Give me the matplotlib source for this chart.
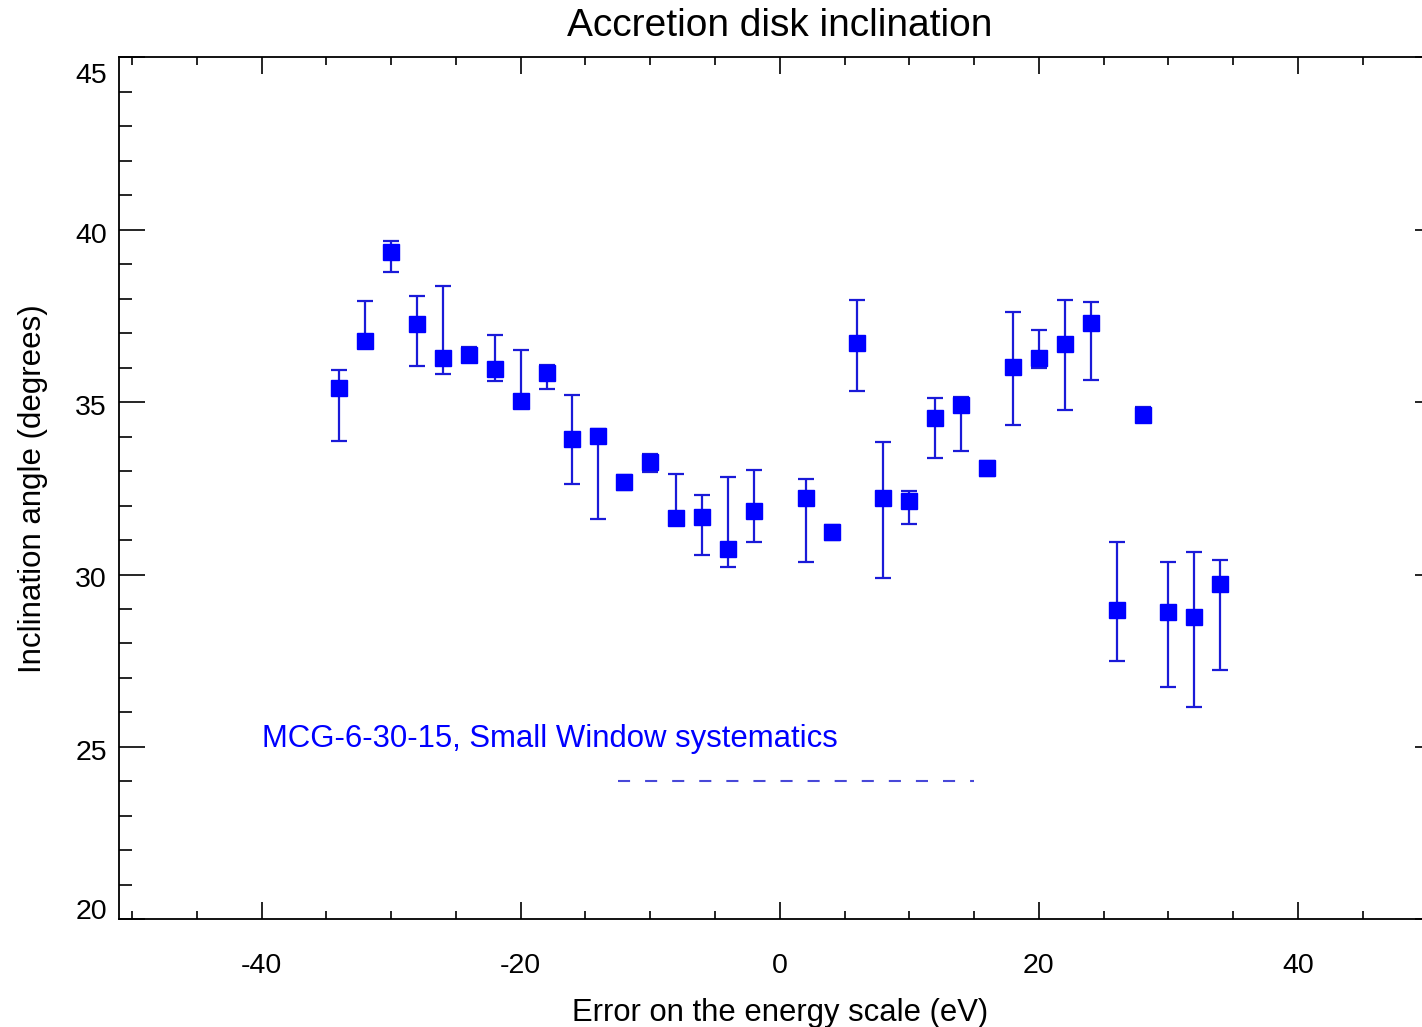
import numpy as np
import matplotlib
matplotlib.use("Agg")
import matplotlib.pyplot as plt
import matplotlib.transforms as mtransforms

plt.rcParams['font.family'] = ['Liberation Sans', 'DejaVu Sans']
plt.rcParams['axes.unicode_minus'] = False

# energy scale offsets (eV), no point at 0
x = [-34, -32, -30, -28, -26, -24, -22, -20, -18, -16, -14, -12, -10, -8, -6, -4, -2,
     2, 4, 6, 8, 10, 12, 14, 16, 18, 20, 22, 24, 26, 28, 30, 32, 34]

# best fit inclination (degrees)
incl = [35.40, 36.78, 39.36, 37.27, 36.29, 36.38, 35.97, 35.03, 35.85, 33.92, 34.01, 32.67,
        33.27, 31.65, 31.67, 30.74, 31.84,
        32.22, 31.22, 36.72, 32.23, 32.13, 34.55, 34.93, 33.08, 36.01, 36.27, 36.69, 37.29,
        28.97, 34.64, 28.90, 28.77, 29.72]

# upper / lower ends of the error bars
incl_hi = [35.93, 37.92, 39.68, 38.07, 38.36, 36.59, 36.94, 36.50, 36.07, 35.21, 34.21, 32.89,
           33.49, 32.91, 32.31, 32.82, 33.02,
           32.78, 31.43, 37.97, 33.83, 32.43, 35.13, 35.15, 33.29, 37.61, 37.10, 37.96, 37.91,
           30.93, 34.86, 30.37, 30.66, 30.42]
incl_lo = [33.86, 36.56, 38.78, 36.04, 35.82, 36.16, 35.61, 34.82, 35.37, 32.62, 31.62, 32.45,
           32.96, 31.44, 30.57, 30.21, 30.93,
           30.36, 31.00, 35.31, 29.89, 31.46, 33.38, 33.57, 32.86, 34.35, 36.00, 34.77, 35.65,
           27.49, 34.42, 26.74, 26.16, 27.24]

# dashed reference line
dash_x = [-12.5, 15.0]
dash_y = 24.0

label_x, label_y = -40, 25
label_txt = "MCG-6-30-15, Small Window systematics"

yticks = [20, 25, 30, 35, 40, 45]

x = np.array(x)
incl = np.array(incl)
yerr = [incl - np.array(incl_lo), np.array(incl_hi) - incl]

fig = plt.figure(figsize=(14.22, 10.27), dpi=100)
ax = fig.add_axes([119/1422, 107.7/1027, 1321.5/1422, 862/1027])

ax.errorbar(x, incl, yerr=yerr, fmt='none', ecolor='#1a1ad8', elinewidth=1.6,
            capsize=5.8, capthick=1.6, zorder=2)
ax.plot(x, incl, 's', color='blue', ms=11, zorder=3)

ax.plot(dash_x, [dash_y, dash_y], color='#4848d8', lw=1.5, dashes=(5.8, 7.2))
ax.text(label_x, label_y, label_txt, color='blue', fontsize=22.4, ha='left', va='baseline')

ax.set_xlim(-51, 51)
ax.set_ylim(20, 45)
ax.set_xticks([-40, -20, 0, 20, 40])
ax.set_xticks(np.arange(-50, 51, 5), minor=True)
ax.set_yticks(yticks)
ax.set_yticks(np.arange(20, 46, 1), minor=True)

ax.tick_params(axis='both', which='both', direction='in', top=True, right=True,
               labelsize=20.5, width=1.2, colors='black')
ax.tick_params(axis='x', which='major', length=12.2, pad=24)
ax.tick_params(axis='x', which='minor', length=5.8)
ax.tick_params(axis='y', which='major', length=18.7, labelleft=False)
ax.tick_params(axis='y', which='minor', length=9.4)
for s in ax.spines.values():
    s.set_linewidth(1.3)

# y tick labels placed like the original: top one hangs below, bottom one sits above
ytrans = mtransforms.blended_transform_factory(ax.transAxes, ax.transData)
for v in yticks:
    if v == yticks[-1]:
        va, dy = 'top', -6
    elif v == yticks[0]:
        va, dy = 'bottom', -6
    else:
        va, dy = 'center_baseline', -3
    off = mtransforms.ScaledTranslation(-12/100, dy/100, fig.dpi_scale_trans)
    ax.text(0, v, str(v), transform=ytrans + off, ha='right', va=va, fontsize=20.5)

ax.set_xlabel("Error on the energy scale (eV)", fontsize=22.3, labelpad=14)
ax.set_ylabel("Inclination angle (degrees)", fontsize=22.5, labelpad=48)
ax.set_title("Accretion disk inclination", fontsize=28, pad=15)

fig.savefig("out.png", dpi=100)
